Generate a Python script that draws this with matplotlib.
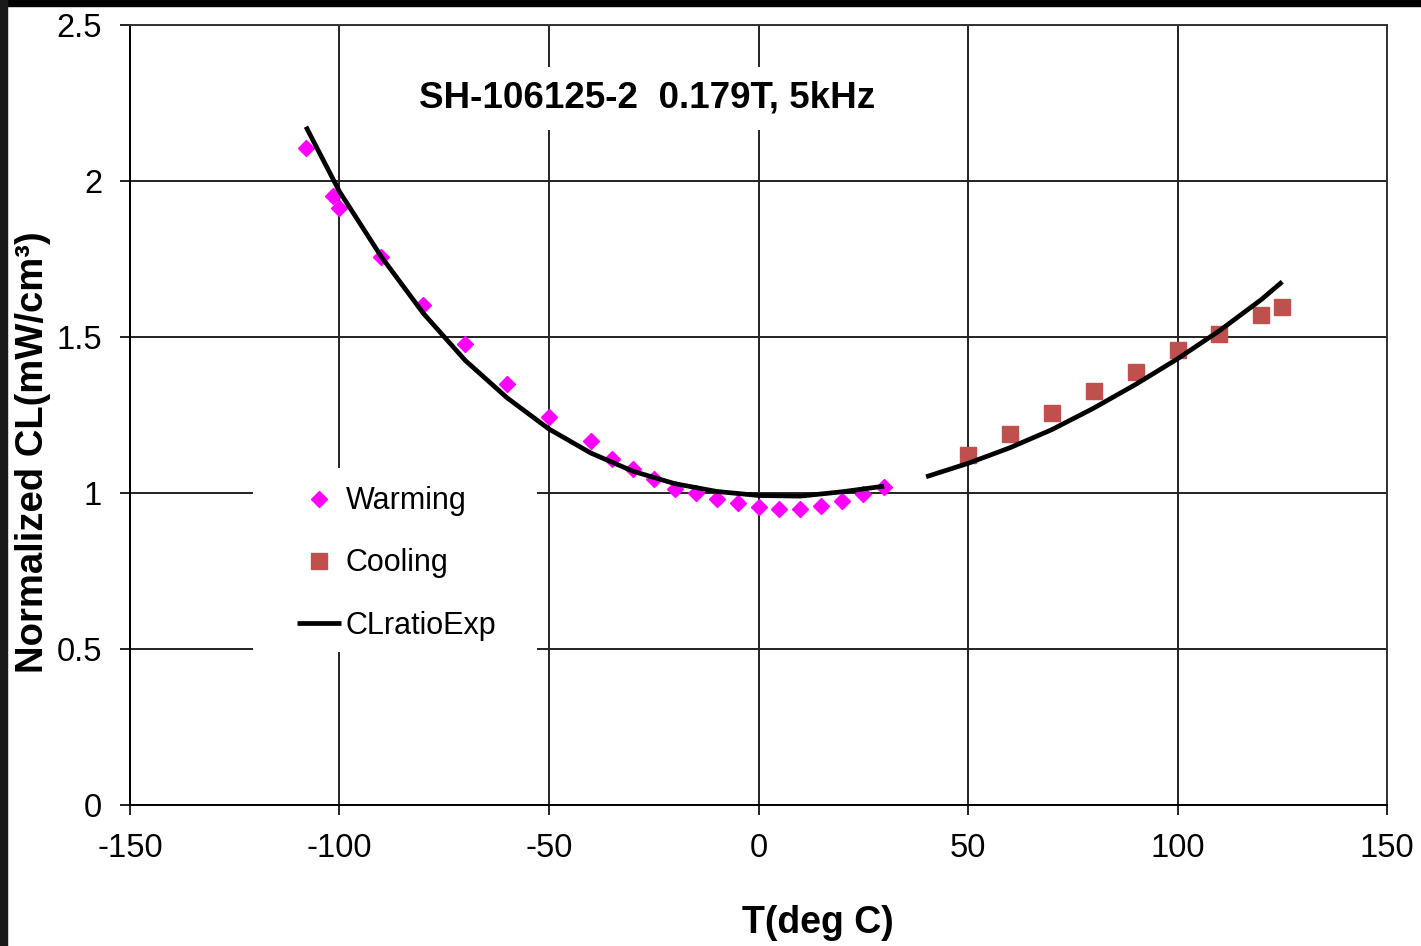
import matplotlib.pyplot as plt
from matplotlib.patches import Rectangle

plt.rcParams['font.family'] = ['Liberation Sans', 'DejaVu Sans']
plt.rcParams['axes.unicode_minus'] = False

# Warming data (magenta diamonds)
warm_t = [-108, -101.5, -100, -90, -80, -70, -60, -50, -40, -35, -30, -25, -20, -15,
          -10, -5, 0, 5, 10, 15, 20, 25, 30]
warm_cl = [2.106, 1.952, 1.913, 1.756, 1.603, 1.478, 1.349, 1.244, 1.167, 1.109, 1.077,
           1.045, 1.013, 1.000, 0.981, 0.968, 0.955, 0.949, 0.949, 0.958, 0.974, 0.997, 1.019]

# Cooling data (red squares)
cool_t = [50, 60, 70, 80, 90, 100, 110, 120, 125]
cool_cl = [1.123, 1.189, 1.255, 1.327, 1.388, 1.458, 1.511, 1.571, 1.597]

# CLratioExp curve, two pieces
exp1_t = [-108, -100, -90, -80, -70, -60, -50, -40, -30, -20, -10, 0, 10, 20, 30]
exp1_cl = [2.174, 1.966, 1.757, 1.576, 1.425, 1.305, 1.205, 1.128, 1.070, 1.030,
           1.005, 0.992, 0.990, 1.004, 1.022]
exp2_t = [40, 50, 60, 70, 80, 90, 100, 110, 120, 125]
exp2_cl = [1.052, 1.095, 1.145, 1.203, 1.272, 1.348, 1.430, 1.520, 1.620, 1.677]

xticks = [-150, -100, -50, 0, 50, 100, 150]
yticks = [0, 0.5, 1, 1.5, 2, 2.5]
ytick_labels = ['0', '0.5', '1', '1.5', '2', '2.5']

fig = plt.figure(figsize=(14.21, 9.46), dpi=100)
ax = fig.add_axes([130/1421, 1-805/946, 1257/1421, 780/946])

ax.plot(warm_t, warm_cl, linestyle='none', marker='D', markersize=8.5,
        color='#FF00FF', label='Warming', zorder=3)
ax.plot(cool_t, cool_cl, linestyle='none', marker='s', markersize=11,
        color='#C0504D', label='Cooling', zorder=3)
ax.plot(exp1_t, exp1_cl, color='black', linewidth=3.4, solid_joinstyle='round',
        solid_capstyle='butt', label='CLratioExp', zorder=4)
ax.plot(exp2_t, exp2_cl, color='black', linewidth=3.4, solid_joinstyle='round',
        solid_capstyle='butt', zorder=4)

ax.set_xlim(-150, 150)
ax.set_ylim(0, 2.5)
ax.set_xticks(xticks)
ax.set_yticks(yticks)
ax.set_yticklabels(ytick_labels)
ax.grid(True, color='#222222', linewidth=1.4)
ax.set_axisbelow(True)
for s in ax.spines.values():
    s.set_color('#333333')
    s.set_linewidth(1.4)
ax.spines['left'].set_color('black')
ax.spines['bottom'].set_color('black')
ax.tick_params(axis='both', direction='out', length=7, width=1.4, color='#222222',
               labelsize=23.5, pad=13)

ax.text(0.411, 0.906, 'SH-106125-2  0.179T, 5kHz', transform=ax.transAxes,
        ha='center', va='center', fontsize=26.5, fontweight='bold',
        bbox=dict(facecolor='white', edgecolor='none', pad=10), zorder=5)

# white area behind the legend
ax.add_patch(Rectangle(((253-130)/1257, (805-652)/780), (537-253)/1257, (652-468)/780,
                       transform=ax.transAxes, facecolor='white', edgecolor='none',
                       zorder=2))
leg = ax.legend(loc='upper left', bbox_to_anchor=(0.118, 0.432), fontsize=22,
                frameon=False, handlelength=1.45, handletextpad=0.15,
                labelspacing=1.05, borderpad=0.6, borderaxespad=0)
leg.set_zorder(5)

fig.text(818/1421, 1-923/946, 'T(deg C)', ha='center', va='center',
         fontsize=27, fontweight='bold')
fig.text(33/1421, 1-452/946, 'Normalized CL(mW/cm³)', ha='center', va='center',
         rotation=90, fontsize=27.5, fontweight='bold')

# dark screenshot edges
fig.patches.append(Rectangle((0, 1-6/946), 1, 6/946, transform=fig.transFigure,
                             color='black', zorder=10))
fig.patches.append(Rectangle((0, 0), 7/1421, 1, transform=fig.transFigure,
                             color='#1a1a1a', zorder=10))

fig.savefig('out.png', dpi=100)
